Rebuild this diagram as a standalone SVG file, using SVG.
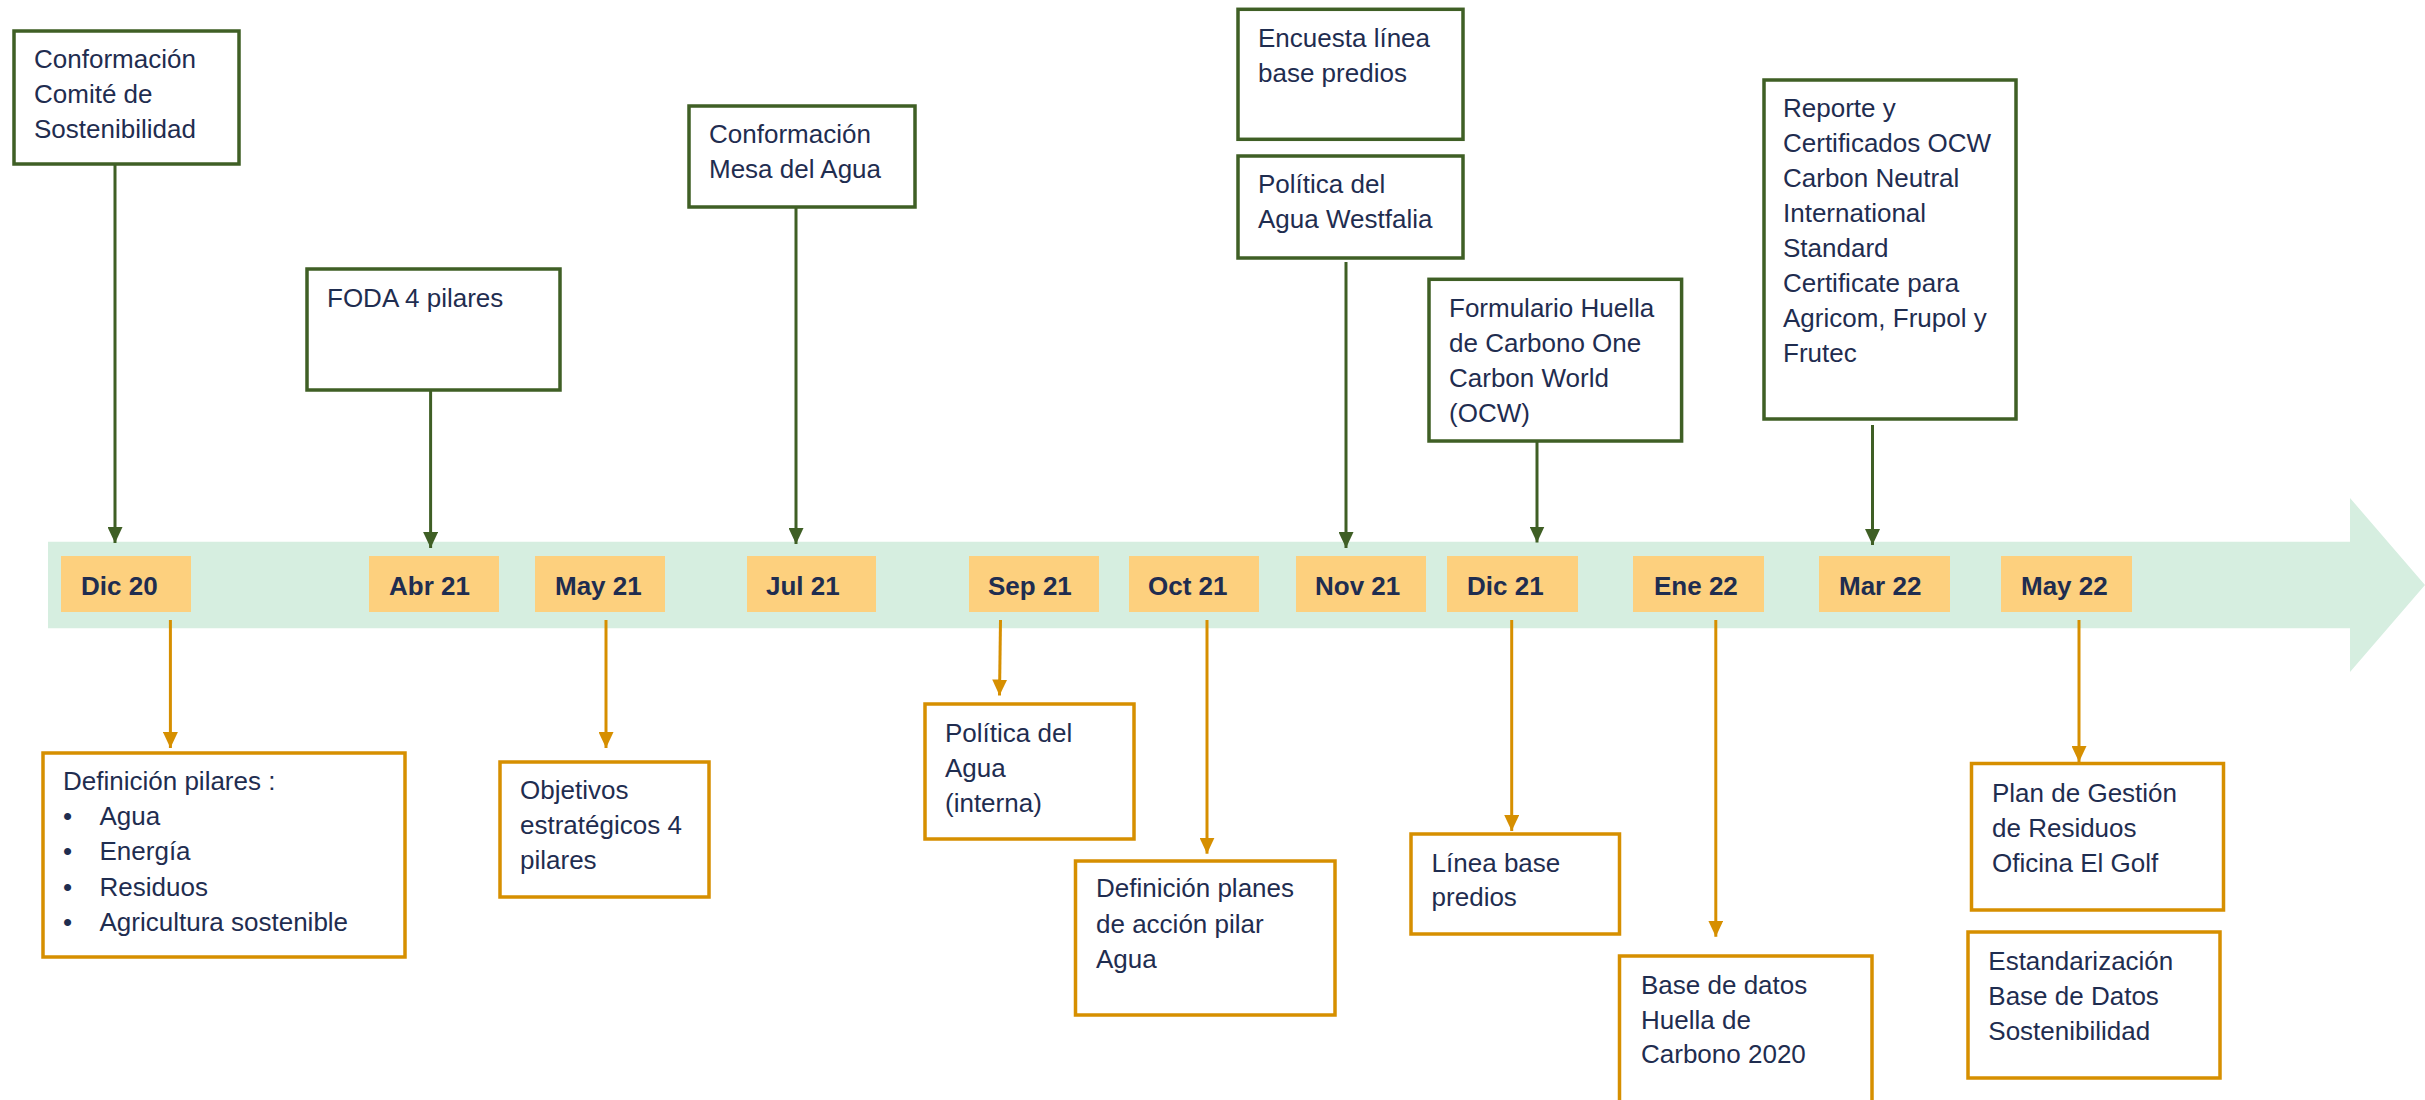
<svg xmlns="http://www.w3.org/2000/svg" width="2425" height="1100" viewBox="0 0 2425 1100">
<defs>
<style>
.t{font-family:"Liberation Sans",Arial,sans-serif;font-size:26px;fill:#1F2D50}
.d{font-family:"Liberation Sans",Arial,sans-serif;font-size:26px;font-weight:bold;fill:#1F2D50}
.gb{fill:#FFFFFF;stroke:#3F5F25;stroke-width:3.5}
.ob{fill:#FFFFFF;stroke:#D68F00;stroke-width:3.5}
.db{fill:#FDD07E}
.gl{stroke:#3F5F25;stroke-width:3;fill:none;marker-end:url(#ga)}
.ol{stroke:#D68F00;stroke-width:3;fill:none;marker-end:url(#oa)}
</style>
<marker id="ga" viewBox="0 0 16 15" refX="16" refY="7.5" markerWidth="16" markerHeight="15" markerUnits="userSpaceOnUse" orient="auto"><path d="M0,0 L16,7.5 L0,15 Z" fill="#3F5F25"/></marker>
<marker id="oa" viewBox="0 0 16 15" refX="16" refY="7.5" markerWidth="16" markerHeight="15" markerUnits="userSpaceOnUse" orient="auto"><path d="M0,0 L16,7.5 L0,15 Z" fill="#D68F00"/></marker>
</defs>
<rect x="0" y="0" width="2425" height="1100" fill="#FFFFFF"/>
<g id="timeline">
<polygon points="48,541.7 2350,541.7 2350,498 2425,585 2350,672 2350,628.3 48,628.3" fill="#D6EEE0"/>
</g>
<g id="dates">
<g id="d-dic20"><rect class="db" x="61" y="556" width="130" height="56"/><text class="d" x="81" y="594.5">Dic 20</text></g>
<g id="d-abr21"><rect class="db" x="369" y="556" width="130" height="56"/><text class="d" x="389" y="594.5">Abr 21</text></g>
<g id="d-may21"><rect class="db" x="535" y="556" width="130" height="56"/><text class="d" x="555" y="594.5">May 21</text></g>
<g id="d-jul21"><rect class="db" x="747" y="556" width="129" height="56"/><text class="d" x="766" y="594.5">Jul 21</text></g>
<g id="d-sep21"><rect class="db" x="969" y="556" width="130" height="56"/><text class="d" x="988" y="594.5">Sep 21</text></g>
<g id="d-oct21"><rect class="db" x="1129" y="556" width="130" height="56"/><text class="d" x="1148" y="594.5">Oct 21</text></g>
<g id="d-nov21"><rect class="db" x="1296" y="556" width="130" height="56"/><text class="d" x="1315" y="594.5">Nov 21</text></g>
<g id="d-dic21"><rect class="db" x="1447" y="556" width="131" height="56"/><text class="d" x="1467" y="594.5">Dic 21</text></g>
<g id="d-ene22"><rect class="db" x="1633" y="556" width="131" height="56"/><text class="d" x="1654" y="594.5">Ene 22</text></g>
<g id="d-mar22"><rect class="db" x="1819" y="556" width="131" height="56"/><text class="d" x="1839" y="594.5">Mar 22</text></g>
<g id="d-may22"><rect class="db" x="2001" y="556" width="131" height="56"/><text class="d" x="2021" y="594.5">May 22</text></g>
</g>
<g id="connectors">
<line class="gl" x1="115" y1="164" x2="115" y2="543"/>
<line class="gl" x1="430.6" y1="390" x2="430.6" y2="548"/>
<line class="gl" x1="796" y1="207" x2="796" y2="544"/>
<line class="gl" x1="1346" y1="262" x2="1346" y2="548"/>
<line class="gl" x1="1537" y1="441" x2="1537" y2="542.5"/>
<line class="gl" x1="1872.5" y1="425" x2="1872.5" y2="545"/>
<line class="ol" x1="170.4" y1="620" x2="170.4" y2="748"/>
<line class="ol" x1="606" y1="620" x2="606" y2="748"/>
<line class="ol" x1="1000.5" y1="620" x2="999.5" y2="695.5"/>
<line class="ol" x1="1207" y1="620" x2="1207" y2="853.7"/>
<line class="ol" x1="1511.7" y1="620" x2="1511.7" y2="831"/>
<line class="ol" x1="1715.8" y1="620" x2="1715.8" y2="936.7"/>
<line class="ol" x1="2079" y1="620" x2="2079" y2="762"/>
</g>
<g id="n-comite"><rect class="gb" x="14" y="31" width="225" height="133"/><text class="t"><tspan x="34" y="68">Conformación</tspan><tspan x="34" y="103">Comité de</tspan><tspan x="34" y="138">Sostenibilidad</tspan></text></g>
<g id="n-foda"><rect class="gb" x="307" y="269" width="253" height="121"/><text class="t" x="327" y="306.7">FODA 4 pilares</text></g>
<g id="n-mesa"><rect class="gb" x="689" y="106" width="226" height="101"/><text class="t"><tspan x="709" y="143">Conformación</tspan><tspan x="709" y="178">Mesa del Agua</tspan></text></g>
<g id="n-encuesta"><rect class="gb" x="1238" y="9.3" width="225" height="130"/><text class="t"><tspan x="1258" y="46.7">Encuesta línea</tspan><tspan x="1258" y="81.7">base predios</tspan></text></g>
<g id="n-westfalia"><rect class="gb" x="1238" y="156" width="225" height="102"/><text class="t"><tspan x="1258" y="193">Política del</tspan><tspan x="1258" y="228">Agua Westfalia</tspan></text></g>
<g id="n-formulario"><rect class="gb" x="1429" y="279.3" width="252.6" height="161.7"/><text class="t"><tspan x="1449" y="316.7">Formulario Huella</tspan><tspan x="1449" y="351.7">de Carbono One</tspan><tspan x="1449" y="386.7">Carbon World</tspan><tspan x="1449" y="421.7">(OCW)</tspan></text></g>
<g id="n-reporte"><rect class="gb" x="1764" y="80" width="252" height="339"/><text class="t"><tspan x="1783" y="116.7">Reporte y</tspan><tspan x="1783" y="151.7">Certificados OCW</tspan><tspan x="1783" y="186.7">Carbon Neutral</tspan><tspan x="1783" y="221.7">International</tspan><tspan x="1783" y="256.7">Standard</tspan><tspan x="1783" y="291.7">Certificate para</tspan><tspan x="1783" y="326.7">Agricom, Frupol y</tspan><tspan x="1783" y="361.7">Frutec</tspan></text></g>
<g id="n-pilares"><rect class="ob" x="43" y="753" width="362" height="204"/><text class="t"><tspan x="63" y="790">Definición pilares :</tspan><tspan x="63" y="825">•</tspan><tspan x="99.5" y="825">Agua</tspan><tspan x="63" y="860">•</tspan><tspan x="99.5" y="860">Energía</tspan><tspan x="63" y="895.7">•</tspan><tspan x="99.5" y="895.7">Residuos</tspan><tspan x="63" y="930.7">•</tspan><tspan x="99.5" y="930.7">Agricultura sostenible</tspan></text></g>
<g id="n-objetivos"><rect class="ob" x="500" y="762" width="209" height="135"/><text class="t"><tspan x="520" y="799.3">Objetivos</tspan><tspan x="520" y="834.3">estratégicos 4</tspan><tspan x="520" y="869.3">pilares</tspan></text></g>
<g id="n-politica-interna"><rect class="ob" x="925" y="704" width="209" height="135"/><text class="t"><tspan x="945" y="741.8">Política del</tspan><tspan x="945" y="776.6">Agua</tspan><tspan x="945" y="812">(interna)</tspan></text></g>
<g id="n-planes"><rect class="ob" x="1075.5" y="861" width="259.5" height="154"/><text class="t"><tspan x="1096" y="897">Definición planes</tspan><tspan x="1096" y="932.7">de acción pilar</tspan><tspan x="1096" y="968.3">Agua</tspan></text></g>
<g id="n-linea-base"><rect class="ob" x="1411" y="834" width="208.5" height="100"/><text class="t"><tspan x="1431.6" y="871.5">Línea base</tspan><tspan x="1431.6" y="906">predios</tspan></text></g>
<g id="n-base-datos"><rect class="ob" x="1619.5" y="956" width="252.5" height="150"/><text class="t"><tspan x="1641" y="994">Base de datos</tspan><tspan x="1641" y="1028.8">Huella de</tspan><tspan x="1641" y="1063.2">Carbono 2020</tspan></text></g>
<g id="n-plan-residuos"><rect class="ob" x="1971.5" y="763.5" width="252" height="146.5"/><text class="t"><tspan x="1992" y="802.3">Plan de Gestión</tspan><tspan x="1992" y="837">de Residuos</tspan><tspan x="1992" y="871.5">Oficina El Golf</tspan></text></g>
<g id="n-estandarizacion"><rect class="ob" x="1968" y="932" width="252" height="146"/><text class="t"><tspan x="1988.3" y="970.3">Estandarización</tspan><tspan x="1988.3" y="1005">Base de Datos</tspan><tspan x="1988.3" y="1039.5">Sostenibilidad</tspan></text></g>
</svg>
